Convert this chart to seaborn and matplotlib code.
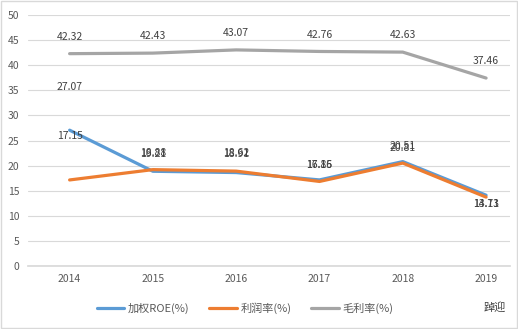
import matplotlib
matplotlib.use("Agg")
import matplotlib.pyplot as plt
import seaborn as sns
import pandas as pd
from matplotlib.patches import Rectangle

sns.set_theme(style="white")
plt.rcParams['font.family'] = ['Noto Sans CJK SC', 'DejaVu Sans']

years = ["2014", "2015", "2016", "2017", "2018", "2019"]
roe = [27.07, 18.88, 18.62, 17.16, 20.81, 14.11]
profit = [17.15, 19.21, 18.91, 16.85, 20.51, 13.73]
gross = [42.32, 42.43, 43.07, 42.76, 42.63, 37.46]
series_names = ["加权ROE(%)", "利润率(%)", "毛利率(%)"]
colors = ["#5B9BD5", "#ED7D31", "#A5A5A5"]
# label vertical offsets (points)
roe_off = [31, 13, 14, 11, 10, -6]
profit_off = [32, 11, 12, 12, 12, -5]
gross_off = [12, 12, 12, 12, 12, 12]

df = pd.DataFrame({
    "year": years * 3,
    "value": roe + profit + gross,
    "series": sum([[n] * len(years) for n in series_names], []),
})

fig = plt.figure(figsize=(5.18, 3.29), dpi=100)
ax = fig.add_axes([0.054, 0.1915, 0.931, 0.7625])
sns.lineplot(data=df, x="year", y="value", hue="series", palette=colors,
             linewidth=2.3, ax=ax, sort=False, legend=True)

ax.set_ylim(0, 50)
ax.set_yticks(range(0, 51, 5))
ax.set_xlim(-0.5, 5.29)
ax.grid(axis="y", color="#D9D9D9", linewidth=0.8)
ax.set_axisbelow(True)
for s in ["left", "right", "top"]:
    ax.spines[s].set_visible(False)
ax.spines["bottom"].set_color("#D9D9D9")
ax.tick_params(axis="both", length=0, labelsize=7.5, colors="#595959", pad=6)
ax.set_xlabel("")
ax.set_ylabel("")

for vals, offs in [(gross, gross_off), (roe, roe_off), (profit, profit_off)]:
    for i, v in enumerate(vals):
        ax.annotate(f"{v:.2f}", (i, v), xytext=(0, offs[i]), textcoords="offset points",
                    ha="center", va="center", fontsize=7.5, color="#404040")

handles, labels = ax.get_legend_handles_labels()
leg = ax.legend(handles, labels, loc="center", bbox_to_anchor=(0.45, -0.17),
                ncol=3, frameon=False, fontsize=8, handlelength=2.5,
                columnspacing=1.8, handletextpad=0.3, labelcolor="#595959")

fig.text(0.955, 0.065, "踔迎", fontsize=8, color="#404040", ha="center", va="center")
fig.patches.append(Rectangle((0.001, 0.002), 0.997, 0.995, transform=fig.transFigure,
                             fill=False, edgecolor="#D9D9D9", linewidth=1))

fig.savefig("out.png", dpi=100)
